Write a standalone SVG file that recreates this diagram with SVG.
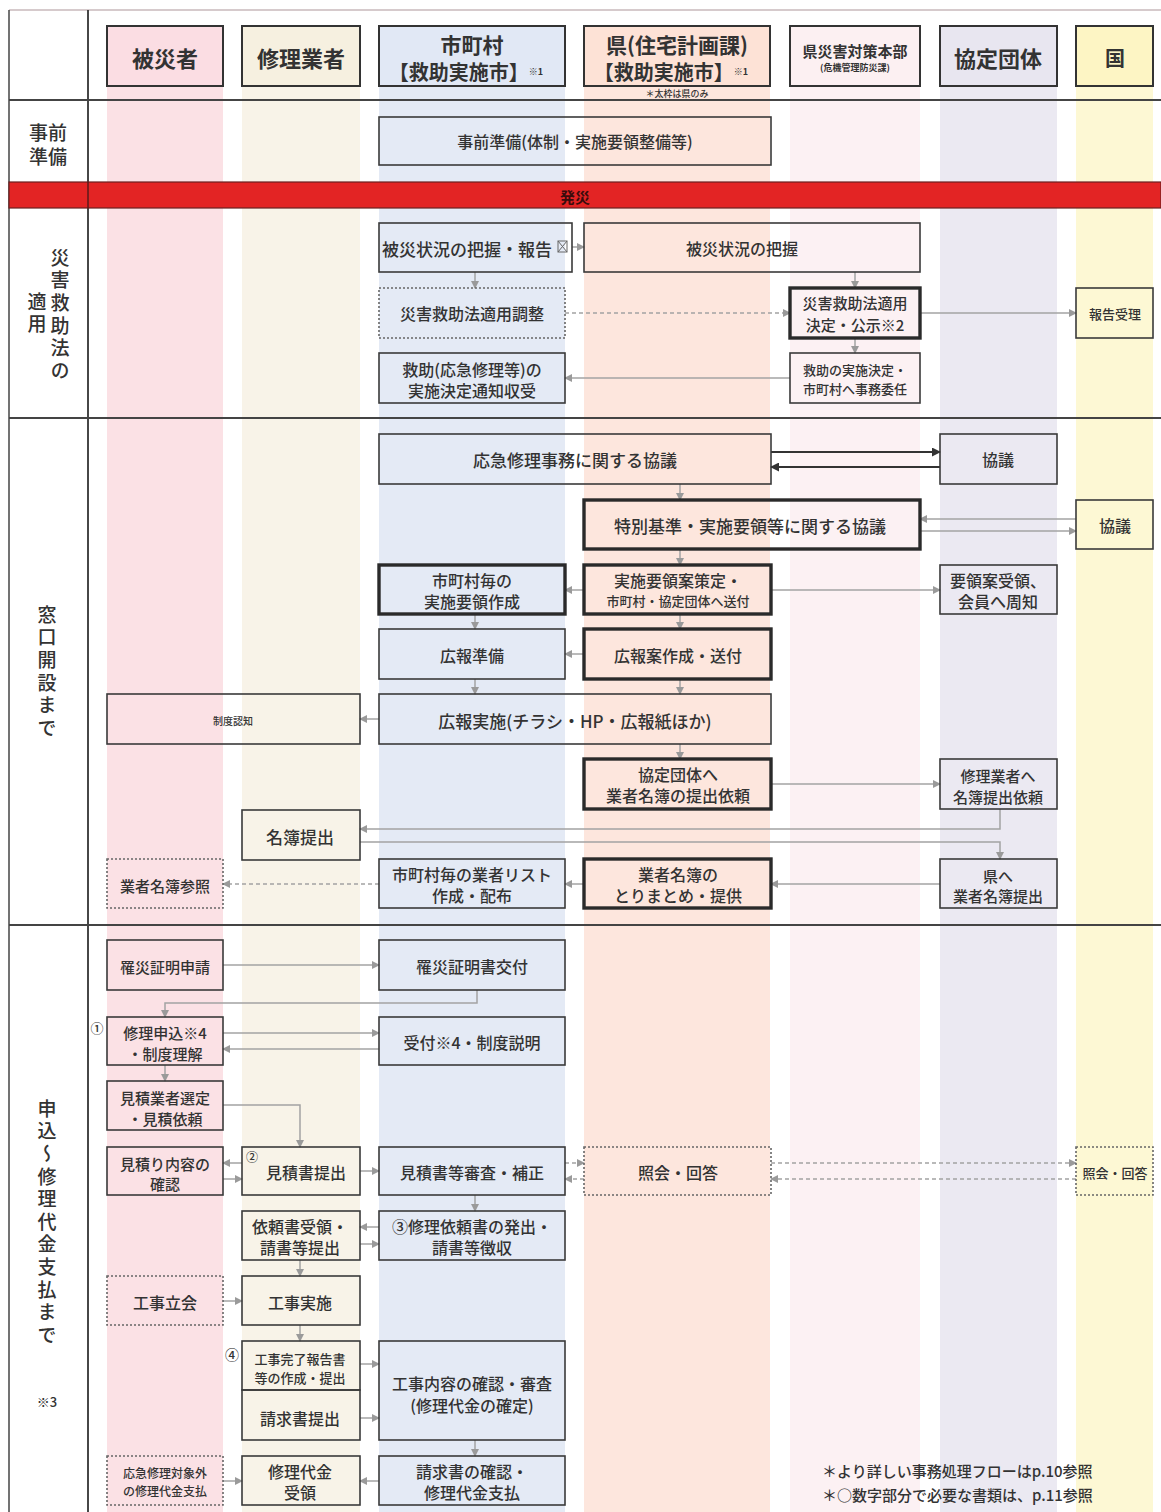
<svg xmlns="http://www.w3.org/2000/svg" width="1161" height="1512" viewBox="0 0 1161 1512">
<style>
.t{font-family:"Noto Sans CJK JP","Noto Sans",sans-serif;fill:#333;text-anchor:middle;dominant-baseline:central;font-weight:500}
.h{font-weight:700;font-size:22px}
.b{font-size:16px}
.v{font-family:"Noto Sans CJK JP","Noto Sans",sans-serif;fill:#333;font-size:19px;font-weight:500;writing-mode:vertical-rl;text-anchor:start;letter-spacing:3.6px}
.box{fill:none;stroke:#3a3a3a;stroke-width:1.6}
.thick{stroke-width:3.4;stroke:#2a2a2a}
.dash{stroke-dasharray:2 2;stroke:#666}
.hb{stroke:#333;stroke-width:2}
.c{fill:none;stroke:#a3a3a3;stroke-width:1.5;marker-end:url(#ah)}
.cd{stroke-dasharray:4 3}
.ck{fill:none;stroke:#333;stroke-width:2;marker-end:url(#ahk)}
.row{stroke:#444;stroke-width:2}
</style>
<defs>
<marker id="ah" markerUnits="userSpaceOnUse" markerWidth="8" markerHeight="8" refX="7" refY="4" orient="auto"><path d="M0,0 L8,4 L0,8 z" fill="#9a9a9a"/></marker>
<marker id="ahk" markerUnits="userSpaceOnUse" markerWidth="9" markerHeight="9" refX="8" refY="4.5" orient="auto"><path d="M0,0 L9,4.5 L0,9 z" fill="#333"/></marker>
</defs>
<rect width="1161" height="1512" fill="#fff"/>
<!-- lane stripes -->
<g id="lanes">
<rect x="107" y="26" width="116" height="1486" fill="#fbe1e5"/>
<rect x="242" y="26" width="118" height="1486" fill="#f8f3e8"/>
<rect x="379" y="26" width="186" height="1486" fill="#e4eaf5"/>
<rect x="584" y="26" width="186" height="1486" fill="#fde6dd"/>
<rect x="790" y="26" width="130" height="1486" fill="#fcf1f3"/>
<rect x="940" y="26" width="117" height="1486" fill="#ebe9f2"/>
<rect x="1076" y="26" width="77" height="1486" fill="#fdf8d4"/>
</g>
<!-- frame & rows -->
<g id="frame">
<line x1="9" y1="10" x2="1161" y2="10" stroke="#c9b9bb" stroke-width="1.5"/>
<line x1="9" y1="10" x2="9" y2="1512" stroke="#444" stroke-width="1.5"/>
<line x1="88" y1="10" x2="88" y2="1512" stroke="#333" stroke-width="1.8"/>
<line class="row" x1="9" y1="100" x2="1161" y2="100"/>
<rect x="9" y="182" width="1152" height="26" fill="#e32424" stroke="#6a2020" stroke-width="1.2"/>
<line x1="88" y1="182" x2="88" y2="208" stroke="#5a1a1a" stroke-width="1.5"/>
<text class="t" x="575" y="196" style="font-size:15px;font-weight:700;fill:#3a0c0c">発災</text>
<line class="row" x1="9" y1="418" x2="1161" y2="418"/>
<line class="row" x1="9" y1="925" x2="1161" y2="925"/>
</g>
<!-- row labels -->
<g id="rowlabels">
<text class="t" x="48" y="131" style="font-size:19px">事前<tspan x="48" dy="24">準備</tspan></text>
<text class="v" x="60" y="248">災害救助法の</text>
<text class="v" x="37" y="292">適用</text>
<text class="v" x="47" y="605">窓口開設まで</text>
<text class="v" x="47" y="1099">申込～修理代金支払まで</text>
<text class="t" x="47" y="1401" style="font-size:13px">※3</text>
</g>
<!-- headers -->
<g id="h-hisaisha"><rect class="hb" x="107" y="26" width="116" height="60" fill="#fbdde3"/><text class="t h" x="165" y="57">被災者</text></g>
<g id="h-shuri"><rect class="hb" x="242" y="26" width="118" height="60" fill="#f6f0e0"/><text class="t h" x="301" y="57">修理業者</text></g>
<g id="h-shichoson"><rect class="hb" x="379" y="26" width="186" height="60" fill="#e1e8f5"/><text class="t" x="472" y="44" style="font-size:21px;font-weight:700">市町村<tspan x="466" dy="27" style="font-size:20px">【救助実施市】</tspan><tspan style="font-size:9px">※1</tspan></text></g>
<g id="h-ken"><rect class="hb" x="584" y="26" width="186" height="60" fill="#fde2d6"/><text class="t" x="677" y="44" style="font-size:21px;font-weight:700">県(住宅計画課)<tspan x="671" dy="27" style="font-size:20px">【救助実施市】</tspan><tspan style="font-size:9px">※1</tspan></text><text class="t" x="677" y="93" style="font-size:9px">＊太枠は県のみ</text></g>
<g id="h-kensaigai"><rect class="hb" x="790" y="26" width="130" height="60" fill="#fcf0f2"/><text class="t" x="855" y="50" style="font-size:15px;font-weight:700">県災害対策本部<tspan x="855" dy="17" style="font-size:9px">(危機管理防災課)</tspan></text></g>
<g id="h-kyotei"><rect class="hb" x="940" y="26" width="117" height="60" fill="#e8e6f0"/><text class="t h" x="998" y="57">協定団体</text></g>
<g id="h-kuni"><rect class="hb" x="1076" y="26" width="77" height="60" fill="#fdf5c4"/><text class="t" x="1115" y="57" style="font-size:20px;font-weight:700">国</text></g>

<!-- connectors -->
<g id="connectors">
<path class="c" d="M572,247 H584"/>
<path class="c" d="M475,272 V288"/>
<path class="c" d="M855,272 V288"/>
<path class="c cd" d="M565,313 H790"/>
<path class="c" d="M920,313 H1076"/>
<path class="c" d="M855,338 V353"/>
<path class="c" d="M790,378 H565"/>
<path class="ck" d="M771,452 H940"/>
<path class="ck" d="M940,467 H771"/>
<path class="c" d="M680,484 V500"/>
<path class="c" d="M1076,519 H920"/>
<path class="c" d="M920,531 H1076"/>
<path class="c" d="M680,549 V565"/>
<path class="c" d="M584,590 H565"/>
<path class="c" d="M771,590 H940"/>
<path class="c" d="M475,614 V629"/>
<path class="c" d="M680,614 V629"/>
<path class="c" d="M584,654 H565"/>
<path class="c" d="M475,679 V694"/>
<path class="c" d="M680,679 V694"/>
<path class="c" d="M379,719 H360"/>
<path class="c" d="M680,744 V759"/>
<path class="c" d="M771,784 H940"/>
<path class="c" d="M1000,809 V829 H360"/>
<path class="c" d="M360,842 H1000 V859"/>
<path class="c" d="M940,884 H771"/>
<path class="c" d="M584,884 H565"/>
<path class="c cd" d="M379,884 H223"/>
<path class="c" d="M223,965 H379"/>
<path class="c" d="M477,990 V1003 H165 V1017"/>
<path class="c" d="M223,1033 H379"/>
<path class="c" d="M379,1049 H223"/>
<path class="c" d="M165,1065 V1081"/>
<path class="c" d="M223,1105 H300 V1147"/>
<path class="c" d="M242,1163 H223"/>
<path class="c" d="M223,1179 H242"/>
<path class="c" d="M360,1171 H379"/>
<path class="c cd" d="M565,1163 H584"/>
<path class="c cd" d="M584,1179 H565"/>
<path class="c cd" d="M771,1163 H1076"/>
<path class="c cd" d="M1076,1179 H771"/>
<path class="c" d="M475,1195 V1211"/>
<path class="c" d="M379,1227 H360"/>
<path class="c" d="M360,1244 H379"/>
<path class="c" d="M300,1260 V1276"/>
<path class="c" d="M223,1301 H242"/>
<path class="c" d="M300,1325 V1341"/>
<path class="c" d="M360,1364 H379"/>
<path class="c" d="M360,1418 H379"/>
<path class="c" d="M475,1440 V1456"/>
<path class="c" d="M379,1481 H360"/>
<path class="c" d="M223,1481 H242"/>
</g>

<!-- nodes -->
<g id="n-jizen"><rect class="box" x="379" y="117" width="392" height="48"/><text class="t b" x="575" y="141">事前準備(体制・実施要領整備等)</text></g>
<g id="n-haaku-hokoku"><rect class="box" x="379" y="223" width="193" height="49"/><text class="t" x="467" y="248" style="font-size:17px">被災状況の把握・報告</text><rect x="558" y="241" width="9" height="11" fill="none" stroke="#666" stroke-width="1"/><path d="M558,241 L567,252 M567,241 L558,252" stroke="#666" stroke-width="1"/></g>
<g id="n-haaku"><rect class="box" x="584" y="223" width="336" height="49" stroke-width="2"/><text class="t b" x="742" y="248">被災状況の把握</text></g>
<g id="n-chosei"><rect class="box dash" x="379" y="288" width="186" height="50"/><text class="t b" x="472" y="313">災害救助法適用調整</text></g>
<g id="n-kettei"><rect class="box thick" x="790" y="288" width="130" height="50" fill="#dedede"/><text class="t" x="855" y="302" style="font-size:15px">災害救助法適用<tspan x="855" dy="22">決定・公示※2</tspan></text></g>
<g id="n-hokokujuri"><rect class="box" x="1076" y="288" width="77" height="50" fill="#fdf3c0"/><text class="t" x="1115" y="313" style="font-size:13px">報告受理</text></g>
<g id="n-tsuchi"><rect class="box" x="379" y="353" width="186" height="50"/><text class="t b" x="472" y="369">救助(応急修理等)の<tspan x="472" dy="21">実施決定通知収受</tspan></text></g>
<g id="n-inin"><rect class="box" x="790" y="353" width="130" height="50" fill="#ffffff"/><text class="t" x="855" y="369" style="font-size:13px">救助の実施決定・<tspan x="855" dy="19">市町村へ事務委任</tspan></text></g>

<g id="n-kyogi1"><rect class="box" x="379" y="434" width="392" height="50"/><text class="t" x="575" y="459" style="font-size:17px">応急修理事務に関する協議</text></g>
<g id="n-kyogi-kyotei"><rect class="box" x="940" y="434" width="117" height="50"/><text class="t b" x="998" y="459">協議</text></g>
<g id="n-tokubetsu"><rect class="box thick" x="584" y="500" width="336" height="49"/><text class="t" x="750" y="525" style="font-size:17px">特別基準・実施要領等に関する協議</text></g>
<g id="n-kyogi-kuni"><rect class="box" x="1076" y="500" width="77" height="49"/><text class="t b" x="1115" y="525">協議</text></g>
<g id="n-yoryo-sakusei"><rect class="box thick" x="379" y="565" width="186" height="49" fill="#67a4d9"/><text class="t b" x="472" y="580">市町村毎の<tspan x="472" dy="21">実施要領作成</tspan></text></g>
<g id="n-yoryo-sakutei"><rect class="box thick" x="584" y="565" width="187" height="49"/><text class="t b" x="678" y="580">実施要領案策定・<tspan x="678" dy="20" style="font-size:13px">市町村・協定団体へ送付</tspan></text></g>
<g id="n-yoryo-juryo"><rect class="box" x="940" y="565" width="117" height="49"/><text class="t b" x="998" y="580">要領案受領、<tspan x="998" dy="21">会員へ周知</tspan></text></g>
<g id="n-koho-junbi"><rect class="box" x="379" y="629" width="186" height="50"/><text class="t b" x="472" y="655">広報準備</text></g>
<g id="n-kohoan"><rect class="box thick" x="584" y="629" width="187" height="50"/><text class="t b" x="678" y="655">広報案作成・送付</text></g>
<g id="n-koho-jisshi"><rect class="box" x="379" y="694" width="392" height="50"/><text class="t" x="575" y="720" style="font-size:17px">広報実施(チラシ・HP・広報紙ほか)</text></g>
<g id="n-seido-ninchi"><rect class="box" x="107" y="694" width="253" height="50"/><text class="t" x="233" y="720" style="font-size:10px">制度認知</text></g>
<g id="n-meibo-irai"><rect class="box thick" x="584" y="759" width="187" height="50"/><text class="t b" x="678" y="774">協定団体へ<tspan x="678" dy="21">業者名簿の提出依頼</tspan></text></g>
<g id="n-meibo-irai2"><rect class="box" x="940" y="759" width="117" height="50"/><text class="t" x="998" y="775" style="font-size:15px">修理業者へ<tspan x="998" dy="21">名簿提出依頼</tspan></text></g>
<g id="n-meibo-teishutsu"><rect class="box" x="242" y="810" width="118" height="50"/><text class="t" x="300" y="836" style="font-size:17px">名簿提出</text></g>
<g id="n-meibo-sansho"><rect class="box dash" x="107" y="859" width="116" height="49"/><text class="t" x="165" y="885" style="font-size:15px">業者名簿参照</text></g>
<g id="n-gyosha-list"><rect class="box" x="379" y="859" width="186" height="49"/><text class="t b" x="472" y="874">市町村毎の業者リスト<tspan x="472" dy="21">作成・配布</tspan></text></g>
<g id="n-torimatome"><rect class="box thick" x="584" y="859" width="187" height="49"/><text class="t b" x="678" y="874">業者名簿の<tspan x="678" dy="21">とりまとめ・提供</tspan></text></g>
<g id="n-ken-he"><rect class="box" x="940" y="859" width="117" height="49"/><text class="t" x="998" y="875" style="font-size:15px">県へ<tspan x="998" dy="20">業者名簿提出</tspan></text></g>

<g id="n-risai-shinsei"><rect class="box" x="107" y="940" width="116" height="50"/><text class="t" x="165" y="966" style="font-size:15px">罹災証明申請</text></g>
<g id="n-risai-kofu"><rect class="box" x="379" y="940" width="186" height="50"/><text class="t b" x="472" y="966">罹災証明書交付</text></g>
<g id="n-shuri-moshikomi"><rect class="box" x="107" y="1017" width="116" height="48"/><text class="t" x="97" y="1027" style="font-size:13px">①</text><text class="t" x="165" y="1032" style="font-size:15px">修理申込※4<tspan x="165" dy="21">・制度理解</tspan></text></g>
<g id="n-uketsuke"><rect class="box" x="379" y="1017" width="186" height="48"/><text class="t b" x="472" y="1042">受付※4・制度説明</text></g>
<g id="n-mitsumori-irai"><rect class="box" x="107" y="1081" width="116" height="49"/><text class="t" x="165" y="1097" style="font-size:15px">見積業者選定<tspan x="165" dy="21">・見積依頼</tspan></text></g>
<g id="n-mitsumori-kakunin"><rect class="box" x="107" y="1147" width="116" height="48"/><text class="t" x="165" y="1163" style="font-size:15px">見積り内容の<tspan x="165" dy="20">確認</tspan></text></g>
<g id="n-mitsumori-teishutsu"><rect class="box" x="242" y="1147" width="118" height="48"/><text class="t" x="252" y="1156" style="font-size:12px">②</text><text class="t b" x="306" y="1172">見積書提出</text></g>
<g id="n-shinsa"><rect class="box" x="379" y="1147" width="186" height="48"/><text class="t b" x="472" y="1172">見積書等審査・補正</text></g>
<g id="n-shokai-ken"><rect class="box dash" x="584" y="1147" width="187" height="48"/><text class="t b" x="678" y="1172">照会・回答</text></g>
<g id="n-shokai-kuni"><rect class="box dash" x="1076" y="1147" width="77" height="48"/><text class="t" x="1115" y="1172" style="font-size:13px">照会・回答</text></g>
<g id="n-iraisho-juryo"><rect class="box" x="242" y="1211" width="118" height="49"/><text class="t b" x="300" y="1226">依頼書受領・<tspan x="300" dy="21">請書等提出</tspan></text></g>
<g id="n-iraisho-hasshutsu"><rect class="box" x="379" y="1211" width="186" height="49"/><text class="t b" x="472" y="1226">③修理依頼書の発出・<tspan x="472" dy="21">請書等徴収</tspan></text></g>
<g id="n-koji-tachiai"><rect class="box dash" x="107" y="1276" width="116" height="49"/><text class="t b" x="165" y="1302">工事立会</text></g>
<g id="n-koji-jisshi"><rect class="box" x="242" y="1276" width="118" height="49"/><text class="t b" x="300" y="1302">工事実施</text></g>
<g id="n-kanryo"><rect class="box" x="242" y="1341" width="118" height="49"/><text class="t" x="232" y="1354" style="font-size:14px">④</text><text class="t" x="300" y="1358" style="font-size:13px">工事完了報告書<tspan x="300" dy="19">等の作成・提出</tspan></text></g>
<g id="n-seikyu-teishutsu"><rect class="box" x="242" y="1390" width="118" height="50"/><text class="t b" x="300" y="1418">請求書提出</text></g>
<g id="n-koji-kakunin"><rect class="box" x="379" y="1341" width="186" height="99"/><text class="t b" x="472" y="1383">工事内容の確認・審査<tspan x="472" dy="22">(修理代金の確定)</tspan></text></g>
<g id="n-taishogai"><rect class="box dash" x="107" y="1456" width="116" height="49"/><text class="t" x="165" y="1472" style="font-size:12px">応急修理対象外<tspan x="165" dy="18">の修理代金支払</tspan></text></g>
<g id="n-daikin-juryo"><rect class="box" x="242" y="1456" width="118" height="49"/><text class="t b" x="300" y="1471">修理代金<tspan x="300" dy="21">受領</tspan></text></g>
<g id="n-daikin-shiharai"><rect class="box" x="379" y="1456" width="186" height="49"/><text class="t b" x="472" y="1471">請求書の確認・<tspan x="472" dy="21">修理代金支払</tspan></text></g>

<g id="notes">
<text class="t" x="822" y="1470" style="font-size:15px;text-anchor:start">＊より詳しい事務処理フローはp.10参照<tspan x="822" dy="24">＊○数字部分で必要な書類は、p.11参照</tspan></text>
</g>
</svg>
